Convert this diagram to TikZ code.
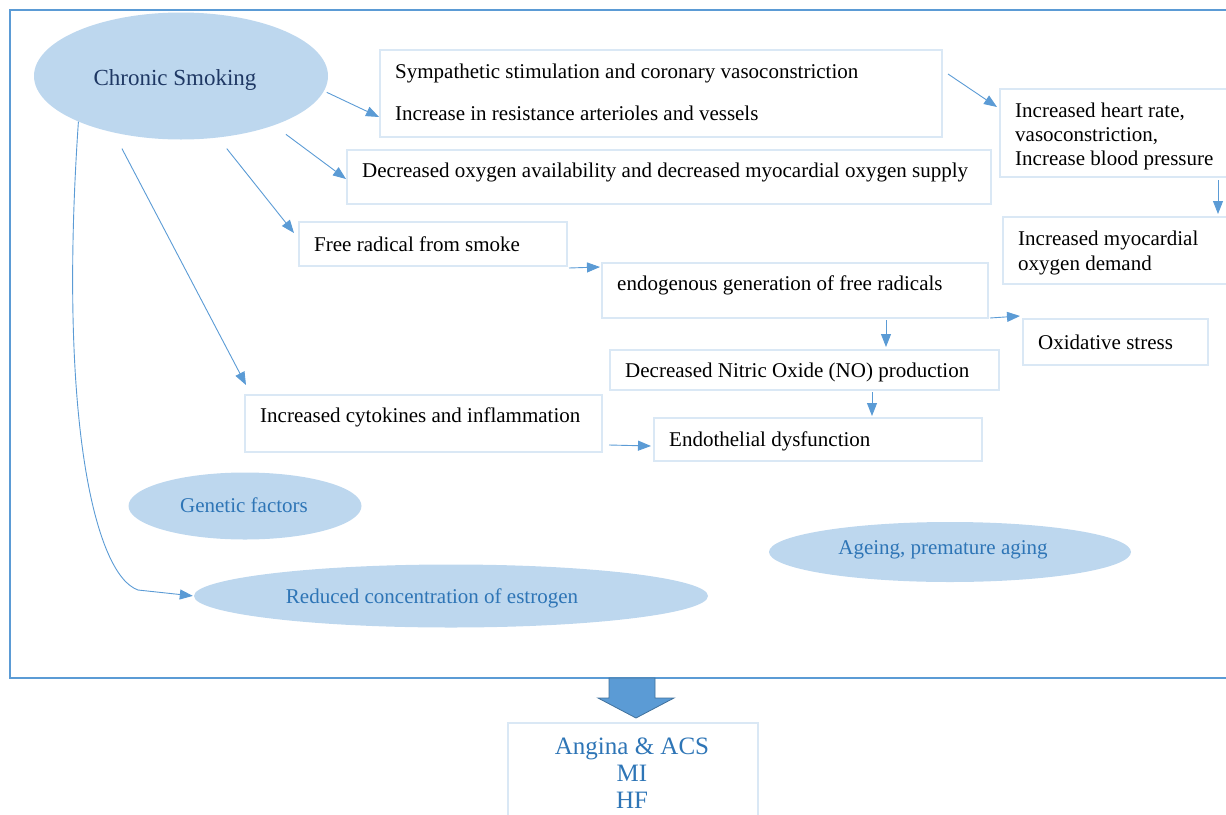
\documentclass[tikz,border=0pt]{standalone}
\usepackage{fontspec}
\setmainfont{Liberation Serif}
\usetikzlibrary{arrows.meta,shapes.geometric}
\definecolor{frameblue}{HTML}{5B9BD5}
\definecolor{ellfill}{HTML}{BDD7EE}
\definecolor{boxline}{HTML}{DAE8F5}
\definecolor{navyblue}{HTML}{1F3864}
\definecolor{txtblue}{HTML}{2E75B6}
\definecolor{arrowedge}{HTML}{41719C}
\begin{document}
\begin{tikzpicture}[x=1pt,y=-1pt,
  box/.style={draw=boxline, line width=2pt, anchor=north west, inner sep=0pt},
  txt/.style={anchor=west, inner sep=0pt, font=\fontsize{21}{24}\selectfont, align=left},
  elltxt/.style={inner sep=0pt, text=txtblue, font=\fontsize{21}{24}\selectfont},
  ell/.style={ellipse, fill=ellfill, inner sep=0pt},
  conn/.style={draw=frameblue, line width=0.9pt, -{Triangle[length=13pt,width=10pt]}},
]
\useasboundingbox (0,0) rectangle (1226,814);
% outer frame
\draw[frameblue, line width=2pt] (1240,10) -- (10,10) -- (10,678) -- (1240,678);

% ellipses
\node[ell, minimum width=294pt, minimum height=127pt] (cs) at (181,76) {};
\node[inner sep=0pt, text=navyblue, font=\fontsize{23}{26}\selectfont] (cst) at (175,80) {Chronic Smoking};
\node[ell, minimum width=233pt, minimum height=67pt] (gen) at (245,506) {};
\node[elltxt] (gent) at (244,505) {Genetic factors};
\node[ell, minimum width=514pt, minimum height=63pt] (red) at (451,596) {};
\node[elltxt] (redt) at (432,598) {Reduced concentration of estrogen};
\node[ell, minimum width=362pt, minimum height=60pt] (age) at (950,552) {};
\node[elltxt] (aget) at (943,550) {Ageing, premature aging};

% boxes
\node[box, minimum width=562pt, minimum height=87pt] (b1) at (379,49) {};
\node[box, minimum width=644pt, minimum height=54pt] (b2) at (346,149) {};
\node[box, minimum width=235pt, minimum height=88pt] (b3) at (999,88) {};
\node[box, minimum width=232pt, minimum height=67pt] (b4) at (1002,216) {};
\node[box, minimum width=268pt, minimum height=44pt] (b5) at (298,221) {};
\node[box, minimum width=386pt, minimum height=55pt] (b6) at (601,262) {};
\node[box, minimum width=185pt, minimum height=46pt] (b7) at (1022,318) {};
\node[box, minimum width=389pt, minimum height=40pt] (b8) at (609,349) {};
\node[box, minimum width=357pt, minimum height=57pt] (b9) at (244,394) {};
\node[box, minimum width=328pt, minimum height=43pt] (b10) at (653,417) {};
\node[box, minimum width=250pt, minimum height=110pt] (res) at (507,722) {};

% texts
\node[txt] (t1a) at (395,73) {Sympathetic stimulation and coronary vasoconstriction};
\node[txt] (t1b) at (395,113) {Increase in resistance arterioles and vessels};
\node[txt] (t2) at (362,172) {Decreased oxygen availability and decreased myocardial oxygen supply};
\node[txt] (t3) at (1015,136) {Increased heart rate,\\vasoconstriction,\\Increase blood pressure};
\node[txt, font=\fontsize{21}{25}\selectfont] (t4) at (1018,252.5) {Increased myocardial\\oxygen demand};
\node[txt] (t5) at (314,244) {Free radical from smoke};
\node[txt] (t6) at (617,285) {endogenous generation of free radicals};
\node[txt] (t7) at (1038,342) {Oxidative stress};
\node[txt] (t8) at (625,372) {Decreased Nitric Oxide (NO) production};
\node[txt] (t9) at (260,417) {Increased cytokines and inflammation};
\node[txt] (t10) at (669,441) {Endothelial dysfunction};
\node[inner sep=0pt, align=center, text=txtblue, font=\fontsize{25}{27}\selectfont] (rest) at (632,773) {Angina \& ACS\\MI\\HF};

% big arrow
\filldraw[fill=frameblue, draw=arrowedge, line width=0.8pt]
  (609,678) -- (655,678) -- (655,698) -- (674,698) -- (636,718) -- (598,698) -- (609,698) -- cycle;

% connectors
\draw[conn, shorten <=3pt] (cs.-6) -- ([yshift=-23.5pt]b1.west);
\draw[conn, shorten <=15pt] (cs.-28) -- ([yshift=-2pt]b2.west);
\draw[conn, shorten <=14pt] (cs.-59) -- ([shift={(-4pt,11pt)}]b5.west);
\draw[conn, shorten <=18pt] (cs.-140) -- ([shift={(2pt,9pt)}]b9.north west);
\coordinate (bend) at (138,590);
\draw[frameblue, line width=0.9pt] (cs.-156) .. controls (58,420) and (95,575) .. (bend);
\draw[conn, shorten >=1pt] (bend) -- (red.west);
\draw[conn] ([shift={(5pt,19.5pt)}]b1.east) -- ([shift={(-2pt,-19pt)}]b3.north west);
\draw[conn] ([shift={(-18pt,-2pt)}]b3.south east) -- ([shift={(-18pt,2pt)}]b4.north east);
\draw[conn] ([shift={(1pt,-1pt)}]b5.south east) -- ([shift={(-1pt,23.5pt)}]b6.west);
\draw[conn] ([shift={(1pt,1pt)}]b6.south east) -- ([shift={(-2pt,2pt)}]b7.north west);
\draw[conn] ([shift={(91pt,-1pt)}]b6.south) -- ([shift={(81.5pt,2pt)}]b8.north);
\draw[conn] ([shift={(67.5pt,-1pt)}]b8.south) -- ([shift={(54pt,1pt)}]b10.north);
\draw[conn] ([shift={(6pt,-21.5pt)}]b9.east) -- ([shift={(-2pt,-6.5pt)}]b10.west);
\end{tikzpicture}
\end{document}
